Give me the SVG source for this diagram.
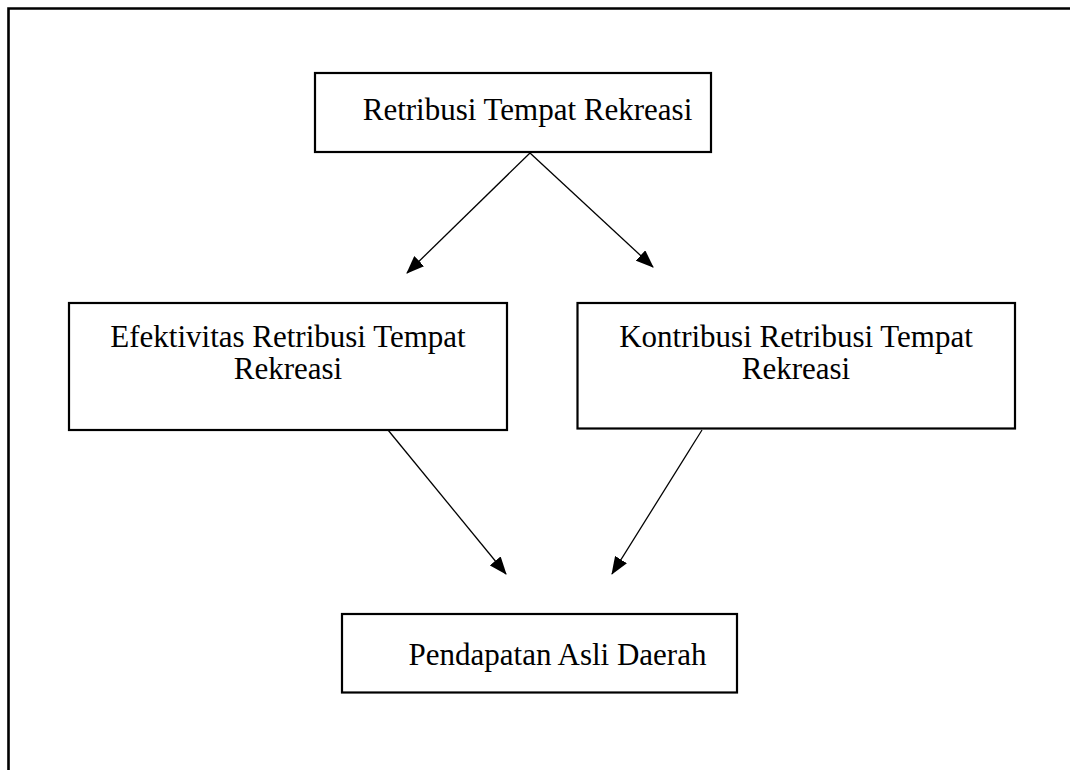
<svg xmlns="http://www.w3.org/2000/svg" width="1070" height="770" viewBox="0 0 1070 770">
<style>
.box{fill:#fff;stroke:#000;stroke-width:2.2}
.t{font-family:"Liberation Serif","Times New Roman",serif;font-size:31px;fill:#000;text-anchor:middle}
.c{stroke:#000;stroke-width:1.3;fill:none;marker-end:url(#ah)}
.frame{stroke:#000;stroke-width:2.6;fill:none}
</style>
<defs>
<marker id="ah" markerUnits="userSpaceOnUse" markerWidth="18" markerHeight="14" viewBox="0 0 18 14" refX="17" refY="7" orient="auto">
<path d="M0,0 L18,7 L0,14 Z" fill="#000"/>
</marker>
</defs>
<rect width="1070" height="770" fill="#fff"/>
<path class="frame" d="M8.5,770 L8.5,8.5 L1070,8.5"/>
<g id="connectors">
<line class="c" x1="530" y1="153" x2="407" y2="273"/>
<line class="c" x1="530" y1="153" x2="653" y2="267"/>
<line class="c" x1="388" y1="430" x2="506" y2="574"/>
<line class="c" x1="702" y1="430" x2="612" y2="574"/>
</g>
<g id="node-retribusi">
<rect class="box" x="315" y="73" width="396" height="79"/>
<text class="t" x="527.5" y="120">Retribusi Tempat Rekreasi</text>
</g>
<g id="node-efektivitas">
<rect class="box" x="69" y="303" width="438" height="127"/>
<text class="t" x="288" y="347">Efektivitas Retribusi Tempat</text>
<text class="t" x="288" y="379">Rekreasi</text>
</g>
<g id="node-kontribusi">
<rect class="box" x="577.5" y="303" width="437.5" height="125.5"/>
<text class="t" x="796" y="347">Kontribusi Retribusi Tempat</text>
<text class="t" x="796" y="379">Rekreasi</text>
</g>
<g id="node-pad">
<rect class="box" x="342" y="614" width="395" height="78.5"/>
<text class="t" x="557.5" y="665">Pendapatan Asli Daerah</text>
</g>
</svg>
